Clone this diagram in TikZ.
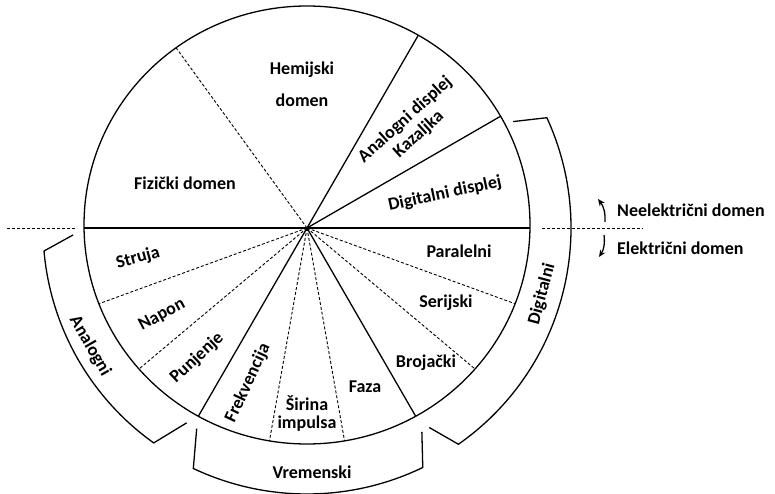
\documentclass[tikz,border=0pt]{standalone}
\usepackage{fontspec}
\setmainfont{Carlito}
\usetikzlibrary{arrows.meta}

\begin{document}
\begin{tikzpicture}[
    x=1pt, y=1pt,
    lbl/.style={font=\bfseries\fontsize{18}{18}\selectfont, inner sep=1pt},
    solidline/.style={line width=1.3pt},
    dashline/.style={line width=0.9pt, dash pattern=on 3pt off 2pt},
    bracket/.style={line width=1.3pt},
    domarrow/.style={line width=1.3pt, -{Stealth[length=7pt, width=6pt]}}
  ]
  \useasboundingbox (0,0) rectangle (775,493);

  \coordinate (O) at (307,265);
  \coordinate (C) at (307,268);

%% spokes of the wheel, cut off at the rim
  \begin{scope}
    \clip (C) ellipse [x radius=223, y radius=219];
    \foreach \a in {0,30,60,180,240,300}
      \draw[solidline] (O) -- ++(\a:300);
    \foreach \a in {126,200,220,260,280,320,340}
      \draw[dashline] (O) -- ++(\a:300);
  \end{scope}
  \draw[solidline] (C) ellipse [x radius=223, y radius=219];

%% brackets round the lower half
  \draw[bracket] ([shift={(181.7:234)}]O) -- ([shift={(185:264)}]O)
    arc[start angle=185, end angle=234.5, radius=264] -- ([shift={(238.3:229)}]O);
  \draw[bracket] ([shift={(241.2:229)}]O) -- ([shift={(244.7:266)}]O)
    arc[start angle=244.7, end angle=295.8, radius=266] -- ([shift={(299.4:234)}]O);
  \draw[bracket] ([shift={(27.3:232)}]O) -- ([shift={(24.7:264)}]O)
    arc[start angle=24.7, end angle=-55, radius=264] -- ([shift={(-58.5:234)}]O);

%% border between the two domains
  \coordinate (ll) at (7,265);
  \coordinate (lr) at (77,265);
  \coordinate (rl) at (542,265);
  \coordinate (rr) at (643,265);
  \draw[dashline] (ll) -- (lr);
  \draw[dashline] (rl) -- (rr);

  \coordinate (upfrom) at (605,271);
  \coordinate (upto) at (598,294);
  \coordinate (dnfrom) at (604,258);
  \coordinate (dnto) at (599,236);
  \draw[domarrow] (upfrom) to[bend right=20] (upto);
  \draw[domarrow] (dnfrom) to[bend left=20] (dnto);
  \node[lbl, anchor=west] (neel) at (616,283) {Neelektrični domen};
  \node[lbl, anchor=west] (el) at (616,245) {Električni domen};

%% upper half
  \node[lbl, align=center] (hem) at (302,409) {Hemijski\\[14pt]domen};
  \node[lbl] (fiz) at (185,310) {Fizički domen};
  \node[lbl, align=center, rotate=42] (andisp) at (412,366) {Analogni displej\\[2pt]Kazaljka};
  \node[lbl, rotate=12] (digdisp) at (445,299) {Digitalni displej};

%% lower half
  \node[lbl] (par) at (459,242) {Paralelni};
  \node[lbl] (ser) at (446,190) {Serijski};
  \node[lbl] (broj) at (426,130) {Brojački};
  \node[lbl] (faza) at (365,106) {Faza};
  \node[lbl, align=center] (sir) at (307,79) {Širina\\impulsa};
  \node[lbl, rotate=65] (frek) at (248,110) {Frekvencija};
  \node[lbl, rotate=43] (punj) at (197,135) {Punjenje};
  \node[lbl, rotate=28] (nap) at (162,178) {Napon};
  \node[lbl, rotate=15] (str) at (138,235) {Struja};

  \node[lbl, rotate=-60] (analog) at (90,147) {Analogni};
  \node[lbl] (vrem) at (312,21) {Vremenski};
  \node[lbl, rotate=75] (digit) at (542,199) {Digitalni};

\end{tikzpicture}
\end{document}
